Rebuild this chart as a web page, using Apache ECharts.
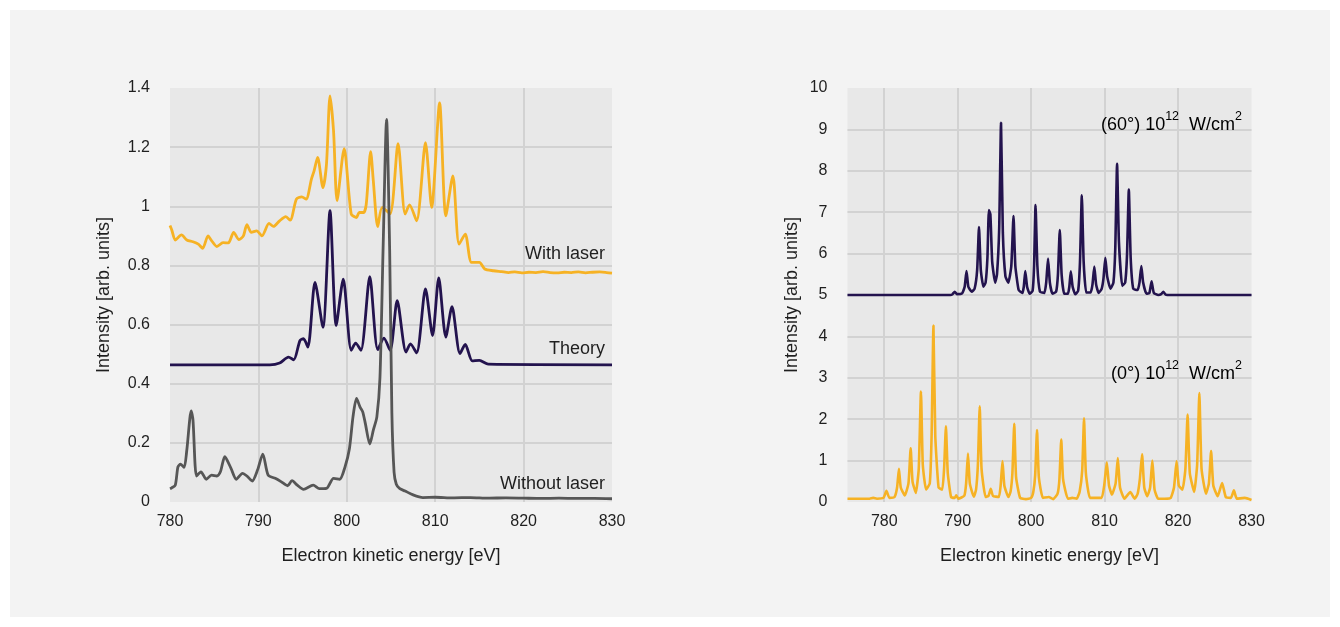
<!DOCTYPE html>
<html>
<head>
<meta charset="utf-8">
<title>Photoelectron spectra</title>
<script src="https://cdn.jsdelivr.net/npm/echarts@6/dist/echarts.min.js"></script>
<style>
  html, body { margin: 0; padding: 0; background: #ffffff; }
  #panel { position: absolute; left: 10px; top: 10px; width: 1320px; height: 607px; background: #f3f3f3; }
  #chart { position: absolute; left: 0; top: 0; width: 1340px; height: 627px; }
</style>
</head>
<body>
<div id="panel"></div>
<div id="chart"></div>
<script>
// ---- Left panel: measured and computed spectra (energy in eV, intensity in arb. units) ----
const withLaserE = [780.0, 780.2, 780.6, 781.3, 781.9, 782.6, 783.2, 783.7, 784.3, 784.7, 785.3, 786.0, 786.6, 787.2, 787.8, 788.3, 788.7, 789.2, 789.8, 790.4, 791.2, 791.7, 792.4, 793.1, 793.6, 794.3, 794.9, 795.4, 796.0, 796.3, 796.7, 797.3, 797.7, 798.1, 798.5, 798.9, 799.7, 800.5, 801.1, 801.4, 801.9, 802.2, 802.7, 803.0, 803.5, 804.0, 804.9, 805.8, 806.6, 807.1, 807.9, 808.9, 809.6, 810.5, 811.2, 812.0, 812.7, 813.4, 814.1, 815.0, 815.6, 816.6, 817.5, 818.3, 819.0, 819.8, 820.6, 821.4, 822.2, 823.0, 823.8, 824.6, 825.4, 826.2, 827.0, 827.8, 828.6, 829.4, 830.0];
const withLaserI = [0.935, 0.92, 0.886, 0.903, 0.886, 0.880, 0.872, 0.858, 0.900, 0.884, 0.864, 0.877, 0.876, 0.912, 0.887, 0.900, 0.938, 0.912, 0.917, 0.900, 0.942, 0.932, 0.951, 0.965, 0.953, 1.024, 1.032, 1.024, 1.092, 1.120, 1.165, 1.063, 1.142, 1.373, 1.255, 1.019, 1.195, 0.974, 0.962, 0.979, 0.979, 1.007, 1.185, 1.086, 0.931, 0.996, 0.975, 1.212, 0.974, 1.005, 0.951, 1.215, 0.996, 1.350, 0.968, 1.103, 0.872, 0.906, 0.810, 0.810, 0.788, 0.782, 0.779, 0.776, 0.778, 0.775, 0.777, 0.776, 0.779, 0.776, 0.775, 0.777, 0.776, 0.778, 0.775, 0.777, 0.778, 0.776, 0.774];

const theoryE = [780.0, 791.3, 792.4, 793.4, 794.0, 794.7, 795.1, 795.6, 796.4, 797.3, 798.1, 798.8, 799.6, 800.5, 801.0, 801.6, 802.6, 803.5, 804.2, 804.9, 805.7, 806.7, 807.2, 807.9, 808.9, 809.7, 810.4, 811.2, 811.9, 812.8, 813.4, 814.2, 815.0, 816.0, 830.0];
const theoryI = [0.464, 0.464, 0.470, 0.490, 0.481, 0.546, 0.552, 0.524, 0.743, 0.591, 0.985, 0.597, 0.754, 0.513, 0.537, 0.513, 0.762, 0.515, 0.554, 0.513, 0.681, 0.507, 0.535, 0.504, 0.721, 0.563, 0.758, 0.558, 0.661, 0.502, 0.533, 0.477, 0.479, 0.466, 0.464];

const noLaserE = [780.0, 780.2, 780.6, 780.9, 781.2, 781.6, 781.9, 782.4, 782.6, 783.0, 783.5, 784.1, 784.7, 785.3, 785.7, 786.2, 786.9, 787.5, 788.2, 788.7, 789.3, 789.9, 790.5, 791.1, 791.9, 792.6, 793.3, 793.8, 794.4, 795.1, 796.2, 796.9, 797.7, 798.5, 799.2, 799.8, 800.3, 800.7, 801.1, 801.5, 801.8, 802.1, 802.6, 803.0, 803.4, 803.75, 804.1, 804.5, 804.85, 805.1, 805.35, 805.6, 806.0, 806.6, 807.5, 808.6, 810.0, 812.0, 814.0, 816.0, 818.0, 820.0, 822.0, 824.0, 826.0, 828.0, 830.0];
const noLaserI = [0.045, 0.048, 0.057, 0.119, 0.128, 0.117, 0.175, 0.308, 0.277, 0.088, 0.102, 0.077, 0.091, 0.088, 0.102, 0.153, 0.114, 0.077, 0.097, 0.088, 0.071, 0.108, 0.162, 0.091, 0.080, 0.068, 0.055, 0.072, 0.057, 0.043, 0.057, 0.045, 0.046, 0.080, 0.077, 0.119, 0.181, 0.288, 0.350, 0.321, 0.305, 0.265, 0.196, 0.243, 0.288, 0.420, 0.850, 1.294, 0.850, 0.300, 0.100, 0.060, 0.045, 0.037, 0.024, 0.015, 0.016, 0.014, 0.015, 0.013, 0.014, 0.013, 0.012, 0.013, 0.012, 0.012, 0.011];

// ---- Right panel: simulated spectra for two polarisation angles ----
const deg60E = [775.0, 789.0, 789.3, 789.6, 789.9, 790.6, 790.95, 791.2, 791.45, 791.9, 792.3, 792.65, 792.9, 793.15, 793.5, 793.8, 794.05, 794.25, 794.45, 794.7, 795.1, 795.35, 795.65, 795.9, 796.15, 796.5, 796.9, 797.3, 797.6, 797.85, 798.3, 798.8, 799.0, 799.2, 799.45, 799.8, 800.2, 800.4, 800.6, 800.85, 801.2, 801.8, 802.05, 802.3, 802.55, 802.9, 803.4, 803.65, 803.9, 804.15, 804.5, 805.0, 805.2, 805.4, 805.65, 806.0, 806.4, 806.65, 806.9, 807.15, 807.5, 808.1, 808.35, 808.6, 808.85, 809.2, 809.6, 809.85, 810.1, 810.35, 810.8, 811.2, 811.45, 811.7, 811.95, 812.4, 812.8, 813.05, 813.3, 813.55, 813.9, 814.5, 814.75, 815.0, 815.25, 815.7, 816.1, 816.4, 816.7, 817.3, 817.7, 818.0, 818.3, 819.0, 830.0];
const deg60I = [5.0, 5.0, 5.02, 5.08, 5.02, 5.04, 5.2, 5.58, 5.2, 5.08, 5.15, 5.6, 6.64, 5.6, 5.2, 5.3, 5.9, 7.05, 6.95, 5.8, 5.3, 5.5, 6.6, 9.16, 6.5, 5.45, 5.3, 5.7, 6.91, 5.7, 5.12, 5.05, 5.2, 5.58, 5.2, 5.03, 5.1, 5.7, 7.17, 5.7, 5.08, 5.05, 5.3, 5.88, 5.3, 5.03, 5.08, 5.5, 6.57, 5.5, 5.03, 5.03, 5.2, 5.57, 5.2, 5.02, 5.1, 5.8, 7.41, 5.8, 5.06, 5.06, 5.25, 5.69, 5.25, 5.05, 5.15, 5.4, 5.9, 5.45, 5.15, 5.3, 6.1, 8.17, 6.3, 5.22, 5.3, 5.95, 7.55, 5.9, 5.15, 5.12, 5.3, 5.70, 5.3, 5.03, 5.05, 5.33, 5.05, 5.0, 5.02, 5.08, 5.01, 5.0, 5.0];

const deg0E = [775.0, 778.0, 778.5, 779.0, 779.9, 780.3, 780.7, 781.4, 781.75, 782.0, 782.25, 782.8, 783.3, 783.6, 783.85, 784.3, 784.7, 785.0, 785.25, 785.7, 786.2, 786.45, 786.7, 786.95, 787.4, 787.9, 788.15, 788.4, 788.65, 789.1, 789.6, 789.8, 790.1, 790.9, 791.15, 791.4, 791.65, 792.2, 792.5, 792.75, 793.0, 793.25, 793.8, 794.2, 794.5, 794.8, 795.6, 795.85, 796.1, 796.35, 796.9, 797.2, 797.45, 797.7, 797.95, 798.5, 799.3, 800.0, 800.3, 800.55, 800.8, 801.05, 801.6, 802.4, 803.0, 803.6, 803.85, 804.1, 804.35, 805.0, 805.6, 806.2, 806.6, 806.95, 807.2, 807.45, 808.0, 808.8, 809.6, 809.95, 810.3, 810.6, 811.0, 811.5, 811.8, 812.1, 812.7, 813.5, 814.1, 814.5, 814.8, 815.1, 815.4, 815.8, 816.2, 816.5, 816.8, 817.3, 818.2, 819.0, 819.45, 819.8, 820.1, 820.6, 821.0, 821.3, 821.6, 822.2, 822.6, 822.9, 823.2, 823.8, 824.2, 824.5, 824.8, 825.4, 826.0, 826.5, 827.2, 827.6, 828.0, 829.1, 830.0];
const deg0I = [0.08, 0.08, 0.10, 0.08, 0.10, 0.27, 0.10, 0.12, 0.35, 0.80, 0.35, 0.16, 0.45, 1.30, 0.50, 0.22, 0.80, 2.67, 0.90, 0.30, 0.45, 1.60, 4.26, 1.60, 0.35, 0.30, 0.80, 1.83, 0.70, 0.12, 0.10, 0.16, 0.08, 0.15, 0.45, 1.17, 0.45, 0.13, 0.30, 0.90, 2.31, 0.80, 0.12, 0.15, 0.32, 0.15, 0.12, 0.40, 0.99, 0.40, 0.12, 0.25, 0.70, 1.89, 0.60, 0.10, 0.07, 0.10, 0.25, 0.65, 1.74, 0.60, 0.10, 0.12, 0.07, 0.20, 0.55, 1.51, 0.55, 0.08, 0.10, 0.08, 0.25, 0.75, 2.02, 0.70, 0.10, 0.10, 0.10, 0.40, 0.96, 0.40, 0.18, 0.45, 1.06, 0.35, 0.08, 0.24, 0.08, 0.20, 0.55, 1.15, 0.35, 0.14, 0.35, 1.00, 0.30, 0.08, 0.08, 0.10, 0.35, 0.99, 0.40, 0.30, 0.80, 2.11, 0.70, 0.24, 0.90, 2.63, 0.80, 0.20, 0.45, 1.23, 0.40, 0.14, 0.46, 0.12, 0.10, 0.28, 0.08, 0.10, 0.05];

// Axis tick values
const leftXTicks = [780, 790, 800, 810, 820, 830];
const rightXTicks = [780, 790, 800, 810, 820, 830];

const FONT = '"Liberation Sans", Arial, Helvetica, sans-serif';
const TEXT = '#1f1f1f';
const ORANGE = '#f6b224';
const PURPLE = '#23134e';
const GREY = '#565656';

const zip = (xs, ys) => xs.map((x, i) => [x, ys[i]]);

function xAxisFor(gridIndex, min, max, ticks) {
  return {
    type: 'value', gridIndex, min, max, splitNumber: 5,
    axisLine: { show: false }, axisTick: { show: false },
    axisLabel: {
      color: TEXT, fontSize: 16, fontFamily: FONT, margin: 12,
      formatter: v => (ticks.indexOf(v) >= 0 ? String(v) : '')
    },
    splitLine: { show: true, showMinLine: false, showMaxLine: false, lineStyle: { color: '#d2d2d2', width: 2 } },
    name: 'Electron kinetic energy [eV]', nameLocation: 'middle', nameGap: 45,
    nameTextStyle: { color: TEXT, fontSize: 18, fontFamily: FONT }
  };
}
function yAxisFor(gridIndex, min, max, interval, gap) {
  return {
    type: 'value', gridIndex, min, max, interval,
    axisLine: { show: false }, axisTick: { show: false },
    axisLabel: { color: TEXT, fontSize: 16, fontFamily: FONT, margin: 20 },
    splitLine: { show: true, showMinLine: false, showMaxLine: false, lineStyle: { color: '#d2d2d2', width: 2 } },
    name: 'Intensity [arb. units]', nameLocation: 'middle', nameGap: gap,
    nameTextStyle: { color: TEXT, fontSize: 18, fontFamily: FONT }
  };
}
function lineSeries(name, xi, data, color, smooth, width) {
  return {
    name, type: 'line', xAxisIndex: xi, yAxisIndex: xi, data,
    showSymbol: false, smooth, silent: true,
    lineStyle: { color, width }
  };
}

const chart = echarts.init(document.getElementById('chart'), null, { renderer: 'canvas' });
const rich = {
  n: { fontSize: 18, fontFamily: FONT, color: TEXT, lineHeight: 24, verticalAlign: 'bottom' },
  s: { fontSize: 12.5, fontFamily: FONT, color: TEXT, lineHeight: 24, verticalAlign: 'top' }
};
function note(x, y, text, size) {
  return { type: 'text', x, y, z: 100, style: { text, fill: TEXT, font: size + 'px ' + FONT, align: 'right', verticalAlign: 'middle' } };
}
function richNote(x, y, angle) {
  return {
    type: 'text', x, y, z: 100,
    style: { text: '{n|(' + angle + '°) 10}{s|12}{n|  W/cm}{s|2}', rich, align: 'right', verticalAlign: 'middle' }
  };
}

chart.setOption({
  backgroundColor: 'transparent',
  animation: false,
  grid: [
    { left: 170, top: 88, width: 442, height: 414, show: true, backgroundColor: '#e8e8e8', borderWidth: 0 },
    { left: 847.5, top: 88, width: 404, height: 414, show: true, backgroundColor: '#e8e8e8', borderWidth: 0 }
  ],
  xAxis: [xAxisFor(0, 780, 830, leftXTicks), xAxisFor(1, 775, 830, rightXTicks)],
  yAxis: [yAxisFor(0, 0, 1.4, 0.2, 57), yAxisFor(1, 0, 10, 1, 46)],
  series: [
    lineSeries('With laser', 0, zip(withLaserE, withLaserI), ORANGE, 0.25, 2.8),
    lineSeries('Theory', 0, zip(theoryE, theoryI), PURPLE, 0.25, 2.8),
    lineSeries('Without laser', 0, zip(noLaserE, noLaserI), GREY, 0.25, 2.8),
    lineSeries('60 deg', 1, zip(deg60E, deg60I), PURPLE, 0.15, 2.6),
    lineSeries('0 deg', 1, zip(deg0E, deg0I), ORANGE, 0.15, 2.6)
  ],
  graphic: [
    note(605, 254, 'With laser', 18),
    note(605, 349, 'Theory', 18),
    note(605, 484, 'Without laser', 18),
    richNote(1242, 122, 60),
    richNote(1242, 371, 0)
  ]
});
</script>
</body>
</html>
